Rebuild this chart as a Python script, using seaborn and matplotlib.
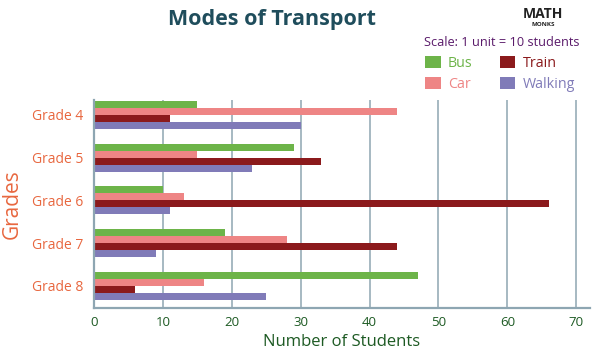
import matplotlib
matplotlib.use("Agg")
from matplotlib import pyplot as plt
from matplotlib.patches import Patch
import seaborn as sns
import pandas as pd

grades = ["Grade 4", "Grade 5", "Grade 6", "Grade 7", "Grade 8"]
modes = ["Bus", "Car", "Train", "Walking"]
bus = [15, 29, 10, 19, 47]
car = [44, 15, 13, 28, 16]
train = [11, 33, 66, 44, 6]
walking = [30, 23, 11, 9, 25]
xticks = [0, 10, 20, 30, 40, 50, 60, 70]

colors = {"Bus": "#6db449", "Car": "#ee8585", "Train": "#8b1a1c", "Walking": "#807bb8"}

rows = []
for mode, vals in zip(modes, [bus, car, train, walking]):
    for g, v in zip(grades, vals):
        rows.append({"Grade": g, "Mode": mode, "Students": v})
df = pd.DataFrame(rows)

sns.set_style("white")
plt.rcParams["font.family"] = ["Open Sans", "DejaVu Sans"]

fig = plt.figure(figsize=(6, 3.58), dpi=100)
ax = fig.add_axes([94 / 600, 50 / 358, 496 / 600, 208 / 358])

sns.barplot(data=df, y="Grade", x="Students", hue="Mode", order=grades,
            hue_order=modes, palette=colors, orient="h", width=0.66,
            ax=ax, legend=False, saturation=1, linewidth=0)

axis_col = "#8ea6b2"
ax.set_xlim(0, 72)
ax.set_ylim(4.52, -0.35)
ax.set_xticks(xticks)
ax.set_xticklabels([str(t) for t in xticks], color="#1d5a23", fontsize=9.5)
ax.tick_params(axis="y", labelcolor="#e8673f", labelsize=10, length=0, pad=8)
ax.tick_params(axis="x", length=0, pad=6)
ax.grid(axis="x", color=axis_col, linewidth=1.1)
ax.set_axisbelow(True)
for s in ["top", "right"]:
    ax.spines[s].set_visible(False)
for s in ["left", "bottom"]:
    ax.spines[s].set_color(axis_col)
    ax.spines[s].set_linewidth(1.6)

ax.set_xlabel("Number of Students", color="#1d5a23", fontsize=12, labelpad=3)
ax.set_ylabel("Grades", color="#e8673f", fontsize=15, labelpad=6)

fig.text(272 / 600, 1 - 20 / 358, "Modes of Transport", ha="center", va="center",
         fontsize=15.5, fontweight="bold", color="#1f4d5c")

# logo
fig.text(543 / 600, 1 - 14 / 358, "MATH", ha="center", va="center",
         fontsize=10, fontweight="bold", color="#222222")
fig.text(543 / 600, 1 - 24 / 358, "MONKS", ha="center", va="center",
         fontsize=4.5, fontweight="bold", color="#222222")

fig.text(424 / 600, 1 - 43 / 358, "Scale: 1 unit = 10 students", ha="left",
         va="center", fontsize=9.2, color="#5a1a6a")

handles = [Patch(facecolor=colors[m], edgecolor="none") for m in modes]
fig.legend(handles, modes, ncol=2, loc="upper left",
           bbox_to_anchor=(415 / 600, 1 - 46 / 358), frameon=False,
           labelcolor=[colors[m] for m in modes], fontsize=10.3,
           handlelength=1.1, handleheight=0.9, handletextpad=0.5,
           columnspacing=1.9, labelspacing=0.42, borderpad=0.2)

fig.savefig("out.png", dpi=100)
